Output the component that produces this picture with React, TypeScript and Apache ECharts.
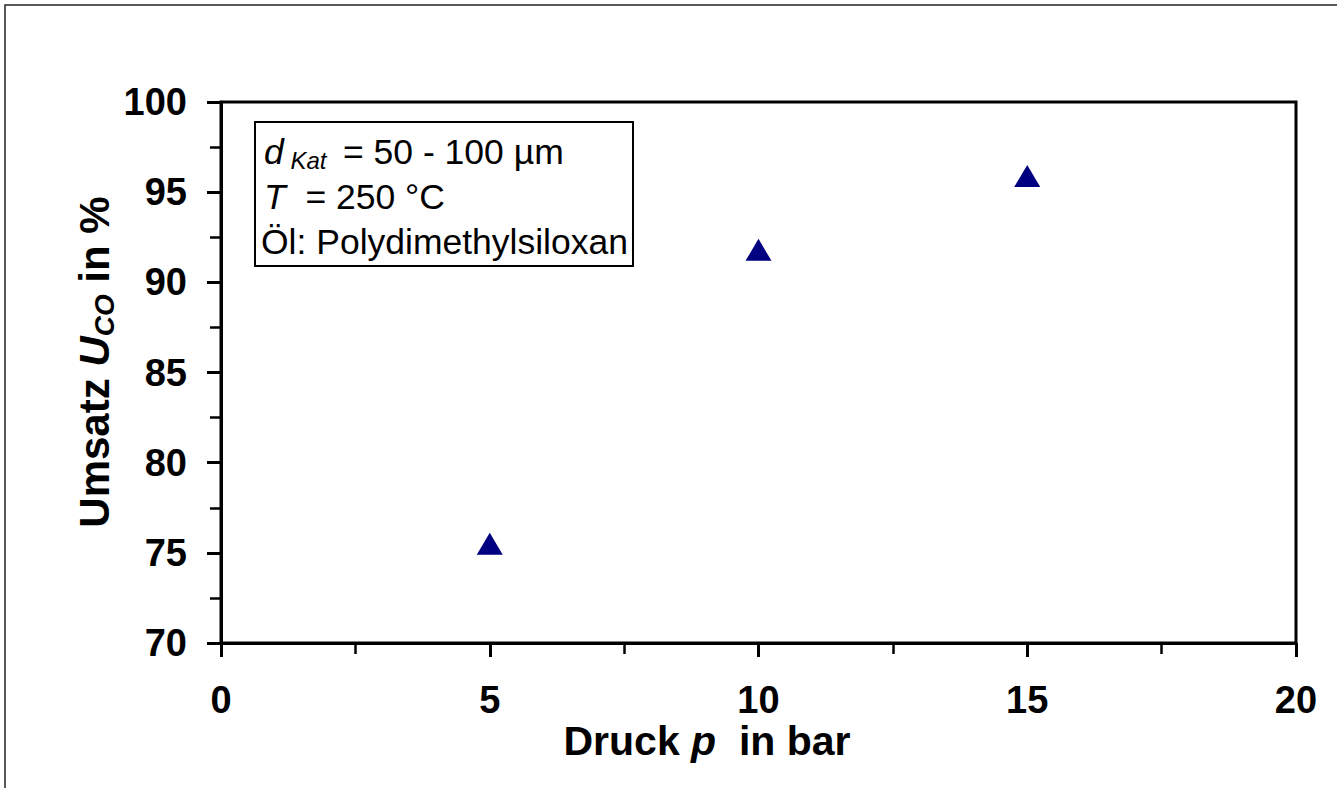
import React, { useEffect, useRef } from "react";
import * as echarts from "echarts";

const pressures = [5, 10, 15];
const conversions = [75.5, 91.8, 95.9];
const xTicks = [0, 5, 10, 15, 20];
const yTicks = [70, 75, 80, 85, 90, 95, 100];

const FONT = "'Liberation Sans', Arial, Helvetica, sans-serif";

export default function App() {
  const ref = useRef<HTMLDivElement>(null);

  useEffect(() => {
    if (!ref.current) return;
    const chart = echarts.init(ref.current, null, { renderer: "svg" });
    const data = pressures.map((p, i) => [p, conversions[i]]);
    chart.setOption({
      animation: false,
      backgroundColor: "#ffffff",
      grid: {
        left: 221,
        right: 41,
        top: 102,
        bottom: 145,
        show: true,
        borderColor: "#000",
        borderWidth: 3,
      },
      xAxis: {
        type: "value",
        min: xTicks[0],
        max: xTicks[xTicks.length - 1],
        interval: 5,
        axisLine: { show: true, onZero: false, lineStyle: { color: "#000", width: 3 } },
        axisTick: { show: true, inside: false, length: 14, lineStyle: { color: "#000", width: 3 } },
        minorTick: { show: true, splitNumber: 2, length: 11, lineStyle: { color: "#000", width: 2.5 } },
        splitLine: { show: false },
        axisLabel: {
          margin: 41,
          color: "#000",
          fontFamily: FONT,
          fontWeight: "bold",
          fontSize: 38,
          lineHeight: 32,
        },
      },
      yAxis: {
        type: "value",
        min: yTicks[0],
        max: yTicks[yTicks.length - 1],
        interval: 5,
        axisLine: { show: true, onZero: false, lineStyle: { color: "#000", width: 3 } },
        axisTick: { show: true, inside: false, length: 14, lineStyle: { color: "#000", width: 3 } },
        minorTick: { show: true, splitNumber: 2, length: 11, lineStyle: { color: "#000", width: 2.5 } },
        splitLine: { show: false },
        axisLabel: {
          margin: 34,
          color: "#000",
          fontFamily: FONT,
          fontWeight: "bold",
          fontSize: 38,
        },
      },
      series: [
        {
          type: "scatter",
          data,
          symbol: "triangle",
          symbolSize: [26, 22],
          itemStyle: { color: "#000080", opacity: 1 },
          z: 5,
        },
      ],
      graphic: [
        {
          type: "rect",
          z: -10,
          silent: true,
          shape: { x: 5, y: 5, width: 1500, height: 1000 },
          style: { fill: "none", stroke: "#222", lineWidth: 1.5 },
        },
        {
          type: "rect",
          z: 10,
          silent: true,
          shape: { x: 255, y: 122, width: 378, height: 144 },
          style: { fill: "#fff", stroke: "#000", lineWidth: 2 },
        },
        {
          type: "text",
          z: 11,
          x: 264,
          y: 152,
          style: {
            text: "{i|d}{s| Kat }{n| = 50 - 100 µm}",
            verticalAlign: "middle",
            fill: "#000",
            font: `35px ${FONT}`,
            rich: {
              i: { fontFamily: FONT, fontSize: 35.5, fontStyle: "italic", lineHeight: 40, verticalAlign: "middle" },
              s: { fontFamily: FONT, fontSize: 24, fontStyle: "italic", lineHeight: 18, verticalAlign: "bottom" },
              n: { fontFamily: FONT, fontSize: 35.5, lineHeight: 40, verticalAlign: "middle" },
            },
          },
        },
        {
          type: "text",
          z: 11,
          x: 264,
          y: 197,
          style: {
            text: "{i|T}{n|  = 250 °C}",
            verticalAlign: "middle",
            fill: "#000",
            font: `35px ${FONT}`,
            rich: {
              i: { fontFamily: FONT, fontSize: 35.5, fontStyle: "italic", lineHeight: 40, verticalAlign: "middle" },
              n: { fontFamily: FONT, fontSize: 35.5, lineHeight: 40, verticalAlign: "middle" },
            },
          },
        },
        {
          type: "text",
          z: 11,
          x: 261,
          y: 242,
          style: {
            text: "Öl: Polydimethylsiloxan",
            verticalAlign: "middle",
            fill: "#000",
            font: `35.5px ${FONT}`,
          },
        },
        {
          type: "text",
          x: 707,
          y: 741,
          style: {
            text: "{b|Druck }{bi|p}{b|  in bar}",
            align: "center",
            verticalAlign: "middle",
            fill: "#000",
            rich: {
              b: { fontFamily: FONT, fontSize: 41, fontWeight: "bold", lineHeight: 34 },
              bi: { fontFamily: FONT, fontSize: 41, fontWeight: "bold", fontStyle: "italic", lineHeight: 34 },
            },
          },
        },
        {
          type: "text",
          x: 94,
          y: 362,
          rotation: Math.PI / 2,
          style: {
            text: "{b|Umsatz }{bi|U}{s|CO}{b| in %}",
            align: "center",
            verticalAlign: "middle",
            fill: "#000",
            rich: {
              b: { fontFamily: FONT, fontSize: 42, fontWeight: "bold", lineHeight: 48, verticalAlign: "middle" },
              bi: { fontFamily: FONT, fontSize: 42, fontWeight: "bold", fontStyle: "italic", lineHeight: 48, verticalAlign: "middle" },
              s: { fontFamily: FONT, fontSize: 28, fontWeight: "bold", fontStyle: "italic", lineHeight: 20, verticalAlign: "bottom" },
            },
          },
        },
      ],
    });
    return () => chart.dispose();
  }, []);

  return (
    <div
      ref={ref}
      style={{ position: "fixed", left: 0, top: 0, width: 1337, height: 788, background: "#fff" }}
    />
  );
}
